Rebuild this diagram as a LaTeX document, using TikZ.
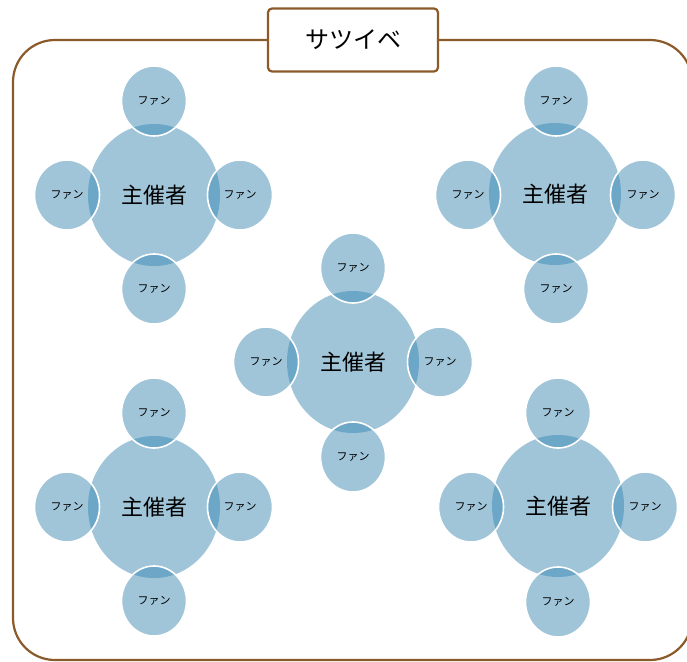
\documentclass[tikz,border=0pt]{standalone}
\usepackage{fontspec}
\newfontfamily\jpfont{Noto Sans CJK JP}
\usetikzlibrary{shapes.geometric}

\definecolor{hostblue}{HTML}{A0C5D8}
\definecolor{lapblue}{HTML}{6CA7C7}
\definecolor{framebrown}{HTML}{8B5A2B}

\tikzset{
  host/.style={ellipse, fill=hostblue, inner sep=0pt,
    minimum width=132pt, minimum height=142pt,
    font=\jpfont\fontsize{22}{25}\selectfont},
  fan/.style={ellipse, fill=hostblue, draw=white, line width=1.6pt, inner sep=0pt,
    minimum width=65pt, minimum height=70pt,
    font=\jpfont\fontsize{11}{13}\selectfont,
    path picture={\fill[lapblue] (#1.center) ellipse [x radius=66pt, y radius=71pt];}},
  frame/.style={draw=framebrown, line width=2.2pt, rounded corners=42pt},
  titlebox/.style={rectangle, draw=framebrown, fill=white, line width=2.2pt,
    rounded corners=4pt, minimum width=170pt, minimum height=63pt,
    font=\jpfont\fontsize{24}{28}\selectfont}
}

\begin{document}
\begin{tikzpicture}[x=1pt,y=-1pt]

        \useasboundingbox (0,0) rectangle (687,661);
        \clip (0,0) rectangle (687,661);

        \draw[frame] (13,40) rectangle (692,660);
        \node[titlebox] (title) at (353,40) {サツイベ};

        % hosts
        \node[host] (h1) at (154,195) {主催者};
        \node[host] (h2) at (555,194) {主催者};
        \node[host] (h3) at (353,362) {主催者};
        \node[host] (h4) at (154,507) {主催者};
        \node[host] (h5) at (558,506) {主催者};

        % fans
        \node[fan=h1] (h1t) at (154,101) {ファン};
        \node[fan=h1] (h1l) at (67,195)  {ファン};
        \node[fan=h1] (h1r) at (240,195) {ファン};
        \node[fan=h1] (h1b) at (154,289) {ファン};

        \node[fan=h2] (h2t) at (556,101) {ファン};
        \node[fan=h2] (h2l) at (468,195) {ファン};
        \node[fan=h2] (h2r) at (643,195) {ファン};
        \node[fan=h2] (h2b) at (556,289) {ファン};

        \node[fan=h3] (h3t) at (353,268) {ファン};
        \node[fan=h3] (h3l) at (266,362) {ファン};
        \node[fan=h3] (h3r) at (440,362) {ファン};
        \node[fan=h3] (h3b) at (353,457) {ファン};

        \node[fan=h4] (h4t) at (154,413) {ファン};
        \node[fan=h4] (h4l) at (67,507)  {ファン};
        \node[fan=h4] (h4r) at (240,507) {ファン};
        \node[fan=h4] (h4b) at (154,601) {ファン};

        \node[fan=h5] (h5t) at (558,413) {ファン};
        \node[fan=h5] (h5l) at (471,507) {ファン};
        \node[fan=h5] (h5r) at (645,507) {ファン};
        \node[fan=h5] (h5b) at (558,602) {ファン};

      \end{tikzpicture}
\end{document}
